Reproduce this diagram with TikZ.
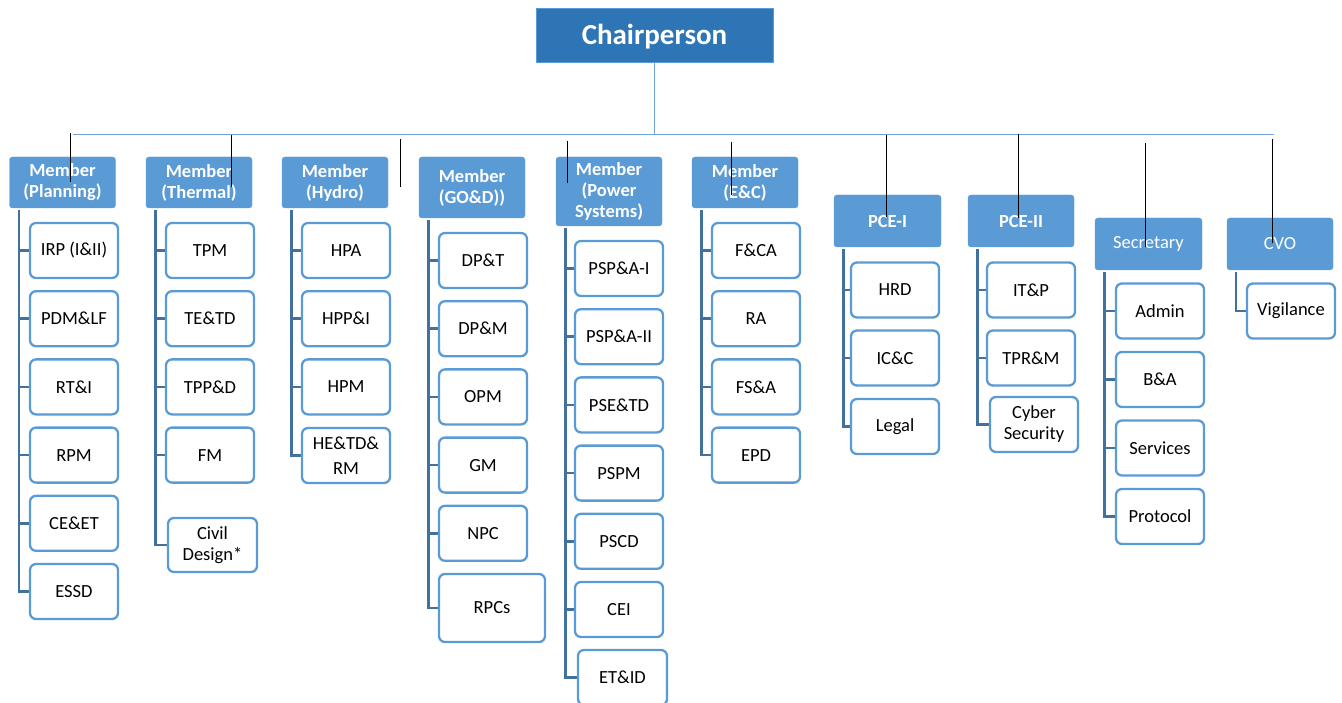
\documentclass[tikz,border=0pt]{standalone}
\usepackage{fontspec}
\setmainfont{Carlito}
\usetikzlibrary{calc,backgrounds}
\definecolor{hdrblue}{HTML}{5B9BD5}
\definecolor{chairblue}{HTML}{2E75B6}
\definecolor{kidblue}{HTML}{5B9BD5}
\definecolor{barblue}{HTML}{41719C}
\definecolor{busblue}{HTML}{6FA3DB}
\newcommand\hdrfont{\fontsize{18.5}{21}\selectfont\bfseries}
\newcommand\plainhdrfont{\fontsize{18.5}{21}\selectfont}
\newcommand\kidfont{\fontsize{18.5}{21}\selectfont}
\newcommand\chairfont{\fontsize{29}{33}\selectfont\bfseries}
\begin{document}
\begin{tikzpicture}[x=1pt,y=-1pt,
  hdr/.style={fill=hdrblue, draw=hdrblue, rounded corners=3pt, text=white,
    font=\hdrfont, align=center, inner sep=0pt, minimum width=106, minimum height=51},
  plainhdr/.style={hdr, font=\plainhdrfont},
  chair/.style={fill=chairblue, draw=hdrblue, line width=0.8pt, text=white,
    font=\chairfont, inner sep=0pt, text height=20pt, text depth=0pt,
    minimum width=237, minimum height=54},
  kid/.style={draw=kidblue, line width=2.3pt, fill=white, rounded corners=6pt,
    font=\kidfont, align=center, inner sep=0pt, minimum width=88, minimum height=55, text=black},
  bar/.style={draw=barblue, line width=2.6pt},
  bus/.style={draw=busblue, line width=1.6pt},
  tick/.style={draw=black, line width=1pt}]
\useasboundingbox (0,0) rectangle (1342,703);
\clip (0,0) rectangle (1342,703);

% top of the chart
\node[chair] (chair) at (654.5,35) {Chairperson};
\coordinate (busL) at (73,134.5);
\coordinate (busR) at (1274,134.5);

% heads of the wings
\node[hdr] (plan)  at (62.5,182.5) {Member\\(Planning)};
\node[hdr] (therm) at (199,182.5) {Member\\(Thermal)};
\node[hdr] (hydro) at (335,182.5) {Member\\(Hydro)};
\node[hdr, minimum height=61] (godd) at (472,187.5) {Member\\(GO\&D))};
\node[hdr, minimum height=69] (ps) at (609,191.5) {Member\\(Power\\Systems)};
\node[hdr] (ec)    at (745,182.5) {Member\\(E\&C)};
\node[hdr, minimum width=107, minimum height=52] (pce1) at (887.5,221) {PCE-I};
\node[hdr, minimum height=52] (pce2) at (1021,221) {PCE-II};
\node[plainhdr, minimum width=107, minimum height=52] (sec) at (1148.5,244) {Secretary};
\node[plainhdr, minimum height=52] (cvo) at (1280,244) {CVO};

% Planning
\node[kid] (p1) at (74,250.5) {IRP (I\&II)};
\node[kid] (p2) at (74,318.7) {PDM\&LF};
\node[kid] (p3) at (74,386.9) {RT\&I};
\node[kid] (p4) at (74,455.1) {RPM};
\node[kid] (p5) at (74,523.3) {CE\&ET};
\node[kid] (p6) at (74,591.5) {ESSD};
% Thermal
\node[kid] (t1) at (210,250.5) {TPM};
\node[kid] (t2) at (210,318.7) {TE\&TD};
\node[kid] (t3) at (210,386.9) {TPP\&D};
\node[kid] (t4) at (210,455.1) {FM};
\node[kid, minimum width=89, minimum height=54] (t5) at (212.5,545) {Civil\\Design*};
% Hydro
\node[kid] (h1) at (346,250.5) {HPA};
\node[kid] (h2) at (346,318.7) {HPP\&I};
\node[kid] (h3) at (346,386.9) {HPM};
\node[kid] (h4) at (346,455.5) {HE\&TD\&\\[4pt]RM};
% GO&D
\node[kid] (g1) at (483,260.5) {DP\&T};
\node[kid] (g2) at (483,328.7) {DP\&M};
\node[kid] (g3) at (483,396.9) {OPM};
\node[kid] (g4) at (483,465.1) {GM};
\node[kid] (g5) at (483,533.3) {NPC};
\node[kid, minimum width=106, minimum height=68] (g6) at (492,608) {RPCs};
% Power Systems
\node[kid] (s1) at (619,268.5) {PSP\&A-I};
\node[kid] (s2) at (619,336.7) {PSP\&A-II};
\node[kid] (s3) at (619,404.9) {PSE\&TD};
\node[kid] (s4) at (619,473.1) {PSPM};
\node[kid] (s5) at (619,541.3) {PSCD};
\node[kid] (s6) at (619,609.5) {CEI};
\node[kid, minimum width=89] (s7) at (622.5,677.5) {ET\&ID};
% E&C
\node[kid] (e1) at (756,250.5) {F\&CA};
\node[kid] (e2) at (756,318.7) {RA};
\node[kid] (e3) at (756,386.9) {FS\&A};
\node[kid] (e4) at (756,455.1) {EPD};
% PCE-I
\node[kid] (a1) at (895,290) {HRD};
\node[kid] (a2) at (895,358) {IC\&C};
\node[kid] (a3) at (895,426.5) {Legal};
% PCE-II
\node[kid] (b1) at (1031,290) {IT\&P};
\node[kid] (b2) at (1031,358) {TPR\&M};
\node[kid] (b3) at (1034,424.5) {Cyber\\Security};
% Secretary
\node[kid] (c1) at (1160,311) {Admin};
\node[kid] (c2) at (1160,379.5) {B\&A};
\node[kid] (c3) at (1160,448) {Services};
\node[kid] (c4) at (1160,516.5) {Protocol};
% CVO
\node[kid] (v1) at (1291,311) {Vigilance};

\begin{scope}[on background layer]
  % bus from the chairperson
  \draw[bus] ([yshift=2]chair.south) -- (chair.south |- busL);
  \draw[bus] (busL) -- (busR);
  % stems from each head to its units
  \foreach \h/\last/\rest in {plan/p6/{p1,p2,p3,p4,p5},
                              therm/t5/{t1,t2,t3,t4},
                              hydro/h4/{h1,h2,h3},
                              godd/g6/{g1,g2,g3,g4,g5},
                              ps/s7/{s1,s2,s3,s4,s5,s6},
                              ec/e4/{e1,e2,e3},
                              pce1/a3/{a1,a2},
                              pce2/b3/{b1,b2},
                              sec/c4/{c1,c2,c3}} {
    \coordinate (\h stem) at ($(\h.south west)+(9.5,2)$);
    \draw[bar] (\h stem) |- (\last.west);
    \foreach \k in \rest { \draw[bar] (\k.west -| \h stem) -- (\k.west); }
  }
  \coordinate (cvostem) at ($(cvo.south west)+(9,2)$);
  \draw[bar] (cvostem) |- (v1.west);
\end{scope}

% thin black strokes across the heads
\foreach \x/\a/\b [count=\i] in {70/133/182, 231/135/187, 400.5/139/187,
    567/141/183, 731/142/195, 886/135/217, 1018/134/218, 1145/143/247, 1272/139/243} {
  \coordinate (tk\i a) at (\x,\a);
  \coordinate (tk\i b) at (\x,\b);
  \draw[tick] (tk\i a) -- (tk\i b);
}
\end{tikzpicture}
\end{document}
